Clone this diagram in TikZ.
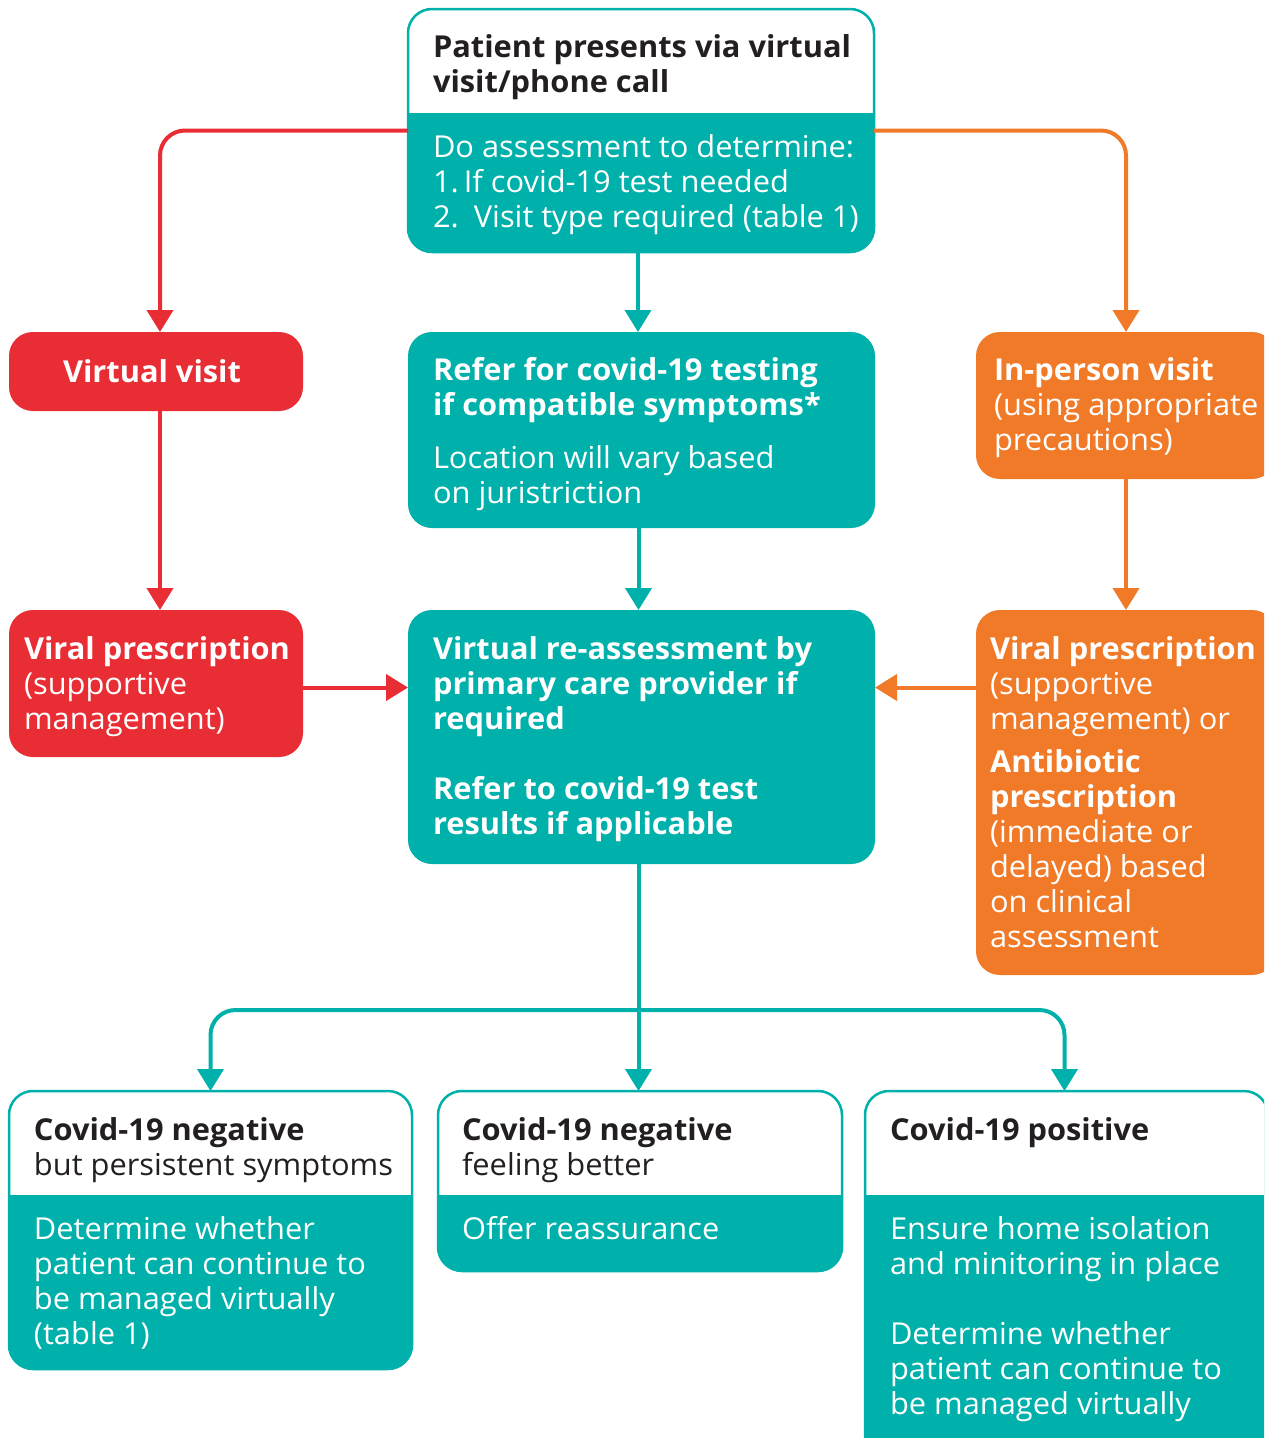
\documentclass[tikz,border=0pt]{standalone}
\usepackage{fontspec}
\setmainfont{Open Sans}[FakeStretch=1.02]
\usetikzlibrary{arrows.meta}
\definecolor{bmjteal}{RGB}{0,176,170}
\definecolor{bmjred}{RGB}{232,45,52}
\definecolor{bmjorange}{RGB}{240,122,40}
\definecolor{bmjdark}{RGB}{35,31,32}
\tikzset{
  box/.style={rounded corners=24pt, inner sep=0pt, outer sep=0pt},
  tealbox/.style={box, fill=bmjteal},
  redbox/.style={box, fill=bmjred},
  orangebox/.style={box, fill=bmjorange},
  splitbox/.style={box, fill=bmjteal, draw=bmjteal, line width=2.5pt,
    path picture={\fill[white, sharp corners] (path picture bounding box.north west) rectangle ([yshift=-#1pt]path picture bounding box.north east);}},
  txt/.style={anchor=base west, inner sep=0pt, outer sep=0pt, text=white,
    font=\fontsize{30.2}{35}\selectfont},
  dtxt/.style={txt, text=bmjdark},
  conn/.style={line width=4pt, rounded corners=25pt, -{Triangle[width=26pt,length=22pt]}},
}
\newcommand{\tl}[1]{\parbox[t]{15cm}{\raggedright #1}}
\begin{document}
\begin{tikzpicture}[x=1pt,y=-1pt]
\clip (0,0) rectangle (1264,1438);
\fill[white] (0,0) rectangle (1264,1438);
% boxes
\node[splitbox=104, minimum width=466, minimum height=243] (top) at (641,130.5) {};
\node[redbox, minimum width=294, minimum height=79] (vv) at (156,371.5) {};
\node[tealbox, minimum width=467, minimum height=196] (ref) at (641.5,430) {};
\node[orangebox, minimum width=300, minimum height=147] (ip) at (1126,405.5) {};
\node[redbox, minimum width=294, minimum height=147] (vp) at (156,683.5) {};
\node[tealbox, minimum width=467, minimum height=254] (ra) at (641.5,737) {};
\node[orangebox, minimum width=300, minimum height=365] (op) at (1126,792.5) {};
\node[splitbox=104, minimum width=403, minimum height=278] (b1) at (210.5,1230) {};
\node[splitbox=104, minimum width=404, minimum height=180] (b2) at (640,1181) {};
\node[splitbox=104, minimum width=403, minimum height=369] (b3) at (1066.5,1275.5) {};
% texts
\node[dtxt] (ttop1) at (433,57) {\tl{\bfseries Patient presents via virtual\\visit/phone call}};
\node[txt] (ttop2) at (433,157) {\tl{Do assessment to determine:\\1.\,If covid-19 test needed\\2.\enspace Visit type required (table 1)}};
\node[txt] (tvv) at (63,382) {\tl{\bfseries Virtual visit}};
\node[txt] (tref) at (433,380) {\tl{\textbf{Refer for covid-19 testing}\\\textbf{if compatible symptoms*}\\[18pt]Location will vary based\\on juristriction}};
\node[txt] (tip) at (994,380) {\tl{\textbf{In-person visit}\\(using appropriate\\precautions)}};
\node[txt] (tvp) at (24,659) {\tl{\textbf{Viral prescription}\\(supportive\\management)}};
\node[txt] (tra) at (433,659) {\tl{\bfseries Virtual re-assessment by\\primary care provider if\\required\\[35pt]Refer to covid-19 test\\results if applicable}};
\node[txt] (top2) at (990,659) {\tl{\textbf{Viral prescription}\\(supportive\\management) or\\[8pt]\textbf{Antibiotic}\\\textbf{prescription}\\(immediate or\\delayed) based\\on clinical\\assessment}};
\node[dtxt] (tb1a) at (34,1140) {\tl{\textbf{Covid-19 negative}\\but persistent symptoms}};
\node[txt] (tb1b) at (34,1239) {\tl{Determine whether\\patient can continue to\\be managed virtually\\(table 1)}};
\node[dtxt] (tb2a) at (462,1140) {\tl{\textbf{Covid-19 negative}\\feeling better}};
\node[txt] (tb2b) at (462,1239) {\tl{Offer reassurance}};
\node[dtxt] (tb3a) at (890,1140) {\tl{\textbf{Covid-19 positive}}};
\node[txt] (tb3b) at (890,1239) {\tl{Ensure home isolation\\and minitoring in place\\[35pt]Determine whether\\patient can continue to\\be managed virtually}};
% connectors
\draw[conn, bmjred] (top.west) -| ([xshift=4pt]vv.north);
\draw[conn, bmjorange] (top.east) -| (ip.north);
\draw[conn, bmjteal] ([xshift=-3pt]top.south) -- ([xshift=-3pt]top.south |- ref.north);
\draw[conn, bmjred] ([xshift=4pt]vv.south) -- ([xshift=4pt]vp.north);
\draw[conn, bmjteal] ([xshift=-3pt]ref.south) -- ([xshift=-3pt]ra.north);
\draw[conn, bmjorange] (ip.south) -- (op.north);
\draw[conn, bmjred] ([yshift=-4pt]vp.east) -- ([yshift=-4pt]vp.east -| ra.west);
\draw[conn, bmjorange] ([yshift=-4pt]vp.east -| op.west) -- ([yshift=-4pt]vp.east -| ra.east);
\coordinate (split) at ([xshift=-3pt]ra.south |- 0,1010);
\draw[conn, bmjteal] ([xshift=-3pt]ra.south) -- ([xshift=-3pt]ra.south |- b2.north);
\draw[conn, bmjteal] (split) -| (b1.north);
\draw[conn, bmjteal] (split) -| ([xshift=-2pt]b3.north);
\end{tikzpicture}
\end{document}
